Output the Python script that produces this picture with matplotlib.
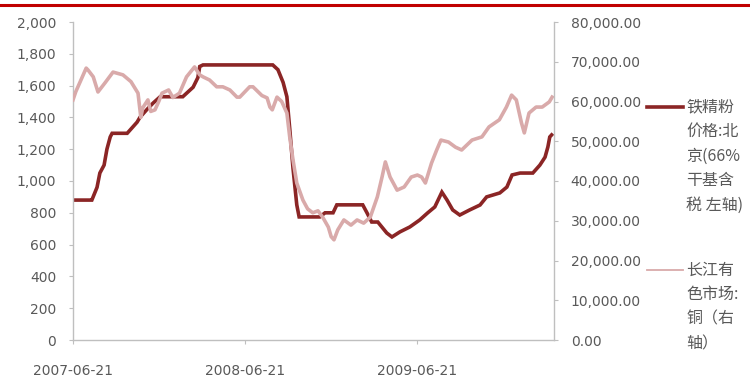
import matplotlib
matplotlib.use("Agg")
import matplotlib.pyplot as plt
import matplotlib.dates as mdates
from matplotlib.lines import Line2D
from matplotlib.ticker import FuncFormatter, MultipleLocator
import pandas as pd

# ---------------- data ----------------
iron_dates = ["2007-06-21", "2007-07-27", "2007-07-31", "2007-08-11", "2007-08-17", "2007-08-26",
              "2007-09-01", "2007-09-08", "2007-09-12", "2007-10-14", "2007-10-26", "2007-11-04",
              "2007-11-10", "2007-11-25", "2007-12-08", "2007-12-23", "2008-02-09", "2008-02-20",
              "2008-03-02", "2008-03-12", "2008-03-16", "2008-03-23", "2008-08-18", "2008-08-29",
              "2008-09-09", "2008-09-17", "2008-09-23", "2008-09-30", "2008-10-08", "2008-10-13",
              "2008-11-26", "2008-12-07", "2008-12-24", "2009-01-01", "2009-02-25", "2009-03-06",
              "2009-03-16", "2009-03-29", "2009-04-17", "2009-04-28", "2009-05-15", "2009-06-05",
              "2009-06-26", "2009-07-13", "2009-07-28", "2009-08-12", "2009-08-23", "2009-09-04",
              "2009-09-19", "2009-10-10", "2009-11-01", "2009-11-15", "2009-12-13", "2009-12-28",
              "2010-01-08", "2010-01-25", "2010-02-21", "2010-03-08", "2010-03-19", "2010-03-25",
              "2010-03-29", "2010-04-02"]
iron_price = [880, 880, 880, 960, 1050, 1100,
              1200, 1277, 1300, 1300, 1340, 1370,
              1400, 1450, 1490, 1530, 1530, 1560,
              1590, 1650, 1720, 1730, 1730, 1700,
              1620, 1530, 1330, 1080, 850, 774,
              774, 800, 800, 850, 850, 800,
              742, 742, 673, 648, 680, 711,
              755, 800, 837, 930, 880, 818,
              786, 818, 849, 900, 925, 962,
              1038, 1050, 1050, 1100, 1150, 1214,
              1277, 1290]

copper_x_px = None  # (not used)
copper_dates = ["2007-06-21", "2007-06-27", "2007-07-06", "2007-07-19", "2007-07-23", "2007-08-03",
                "2007-08-13", "2007-08-28", "2007-09-14", "2007-09-20", "2007-10-05", "2007-10-22",
                "2007-11-06", "2007-11-12", "2007-11-16", "2007-11-27", "2007-12-03", "2007-12-12",
                "2007-12-20", "2007-12-27", "2008-01-10", "2008-01-19", "2008-02-02", "2008-02-17",
                "2008-03-05", "2008-03-16", "2008-03-23", "2008-04-06", "2008-04-21", "2008-05-04",
                "2008-05-19", "2008-06-03", "2008-06-09", "2008-06-30", "2008-07-07", "2008-07-26",
                "2008-08-06", "2008-08-12", "2008-08-17", "2008-08-27", "2008-09-06", "2008-09-17",
                "2008-09-23", "2008-09-30", "2008-10-08", "2008-10-21", "2008-10-31", "2008-11-11",
                "2008-11-22", "2008-12-02", "2008-12-14", "2008-12-20", "2008-12-26", "2009-01-03",
                "2009-01-16", "2009-01-31", "2009-02-13", "2009-02-27", "2009-03-13", "2009-03-28",
                "2009-04-07", "2009-04-14", "2009-04-24", "2009-05-09", "2009-05-24", "2009-06-08",
                "2009-06-21", "2009-06-30", "2009-07-08", "2009-07-21", "2009-08-01", "2009-08-10",
                "2009-08-26", "2009-09-10", "2009-09-23", "2009-10-15", "2009-11-05", "2009-11-20",
                "2009-12-12", "2009-12-27", "2010-01-07", "2010-01-17", "2010-01-28", "2010-02-03",
                "2010-02-13", "2010-02-28", "2010-03-13", "2010-03-28", "2010-04-03"]
copper_price = [60400, 62500, 64900, 68400, 67900, 66200,
                62400, 64700, 67400, 67200, 66700, 65000,
                62100, 56000, 58400, 60400, 57500, 57900,
                60000, 62100, 62900, 61000, 62100, 66200,
                68700, 66700, 66200, 65400, 63700, 63700,
                62900, 61100, 61100, 63700, 63700, 61500,
                60900, 58600, 57900, 61100, 60000, 57100,
                51100, 45300, 39500, 35200, 33000, 32000,
                32500, 30900, 28400, 26000, 25200, 27700,
                30200, 28900, 30200, 29400, 30900, 36000,
                41000, 44800, 41000, 37700, 38500, 41000,
                41500, 41000, 39500, 44500, 47800, 50300,
                49800, 48500, 47800, 50300, 51100, 53600,
                55400, 58600, 61600, 60400, 54600, 52100,
                57100, 58600, 58600, 59900, 61100]

x_tick_labels = ["2007-06-21", "2008-06-21", "2009-06-21"]
legend_iron = ["铁精粉", "价格:北", "京(66%", "干基含", "税 左轴)"]
legend_copper = ["长江有", "色市场:", "铜（右", "轴）"]

# ---------------- figure ----------------
W, H = 750, 378
fig = plt.figure(figsize=(7.5, 3.78), dpi=100)
ax = fig.add_axes([73 / W, 1 - 340 / H, (554 - 73) / W, (340 - 22) / H])
ax2 = ax.twinx()

text_col = "#595959"
grid_col = "#BFBFBF"
iron_col = "#8B2525"
copper_col = "#D9AAAA"

idates = pd.to_datetime(iron_dates)
cdates = pd.to_datetime(copper_dates)

ax.plot(idates, iron_price, color=iron_col, lw=2.6, solid_joinstyle="miter")
ax2.plot(cdates, copper_price, color=copper_col, lw=2.6, solid_joinstyle="round")

ax.set_ylim(0, 2000)
ax2.set_ylim(0, 80000)
ax.yaxis.set_major_locator(MultipleLocator(200))
ax2.yaxis.set_major_locator(MultipleLocator(10000))
ax.yaxis.set_major_formatter(FuncFormatter(lambda v, p: f"{int(v):,}"))
ax2.yaxis.set_major_formatter(FuncFormatter(lambda v, p: f"{v:,.2f}"))

ax.set_xlim(pd.Timestamp("2007-06-21"), pd.Timestamp("2010-04-07"))
ax.set_xticks(pd.to_datetime(x_tick_labels))
ax.set_xticklabels(x_tick_labels)

for a in (ax, ax2):
    a.spines["top"].set_visible(False)
    for s in ("left", "right", "bottom"):
        a.spines[s].set_color(grid_col)
        a.spines[s].set_linewidth(1.0)
    a.tick_params(axis="both", colors=grid_col, labelcolor=text_col, labelsize=10,
                  length=3, width=0.8)
ax.tick_params(axis="y", pad=9)
ax2.tick_params(axis="y", pad=9)
ax.tick_params(axis="x", pad=14)
ax2.spines["left"].set_visible(False)
ax2.spines["bottom"].set_visible(False)
ax.spines["right"].set_visible(False)

# top red rule
fig.add_artist(Line2D([0, 1], [1 - 5 / H, 1 - 5 / H], color="#C00000", lw=2.2,
                      transform=fig.transFigure))

# legend (manual, to match stacked wrapped labels)
cjk = ["Noto Sans CJK SC", "DejaVu Sans"]
fig.add_artist(Line2D([647 / W, 683 / W], [1 - 107 / H] * 2, color=iron_col, lw=2.6,
                      transform=fig.transFigure))
fig.add_artist(Line2D([647 / W, 683 / W], [1 - 270 / H] * 2, color=copper_col, lw=1.3,
                      transform=fig.transFigure))
step = 24.5
for i, t in enumerate(legend_iron):
    fig.text(686 / W, 1 - (107 + i * step) / H, t, family=cjk, fontsize=11.5,
             color=text_col, va="center", ha="left")
for i, t in enumerate(legend_copper):
    fig.text(686 / W, 1 - (270 + i * step) / H, t, family=cjk, fontsize=11.5,
             color=text_col, va="center", ha="left")

fig.savefig("out.png", dpi=100)
